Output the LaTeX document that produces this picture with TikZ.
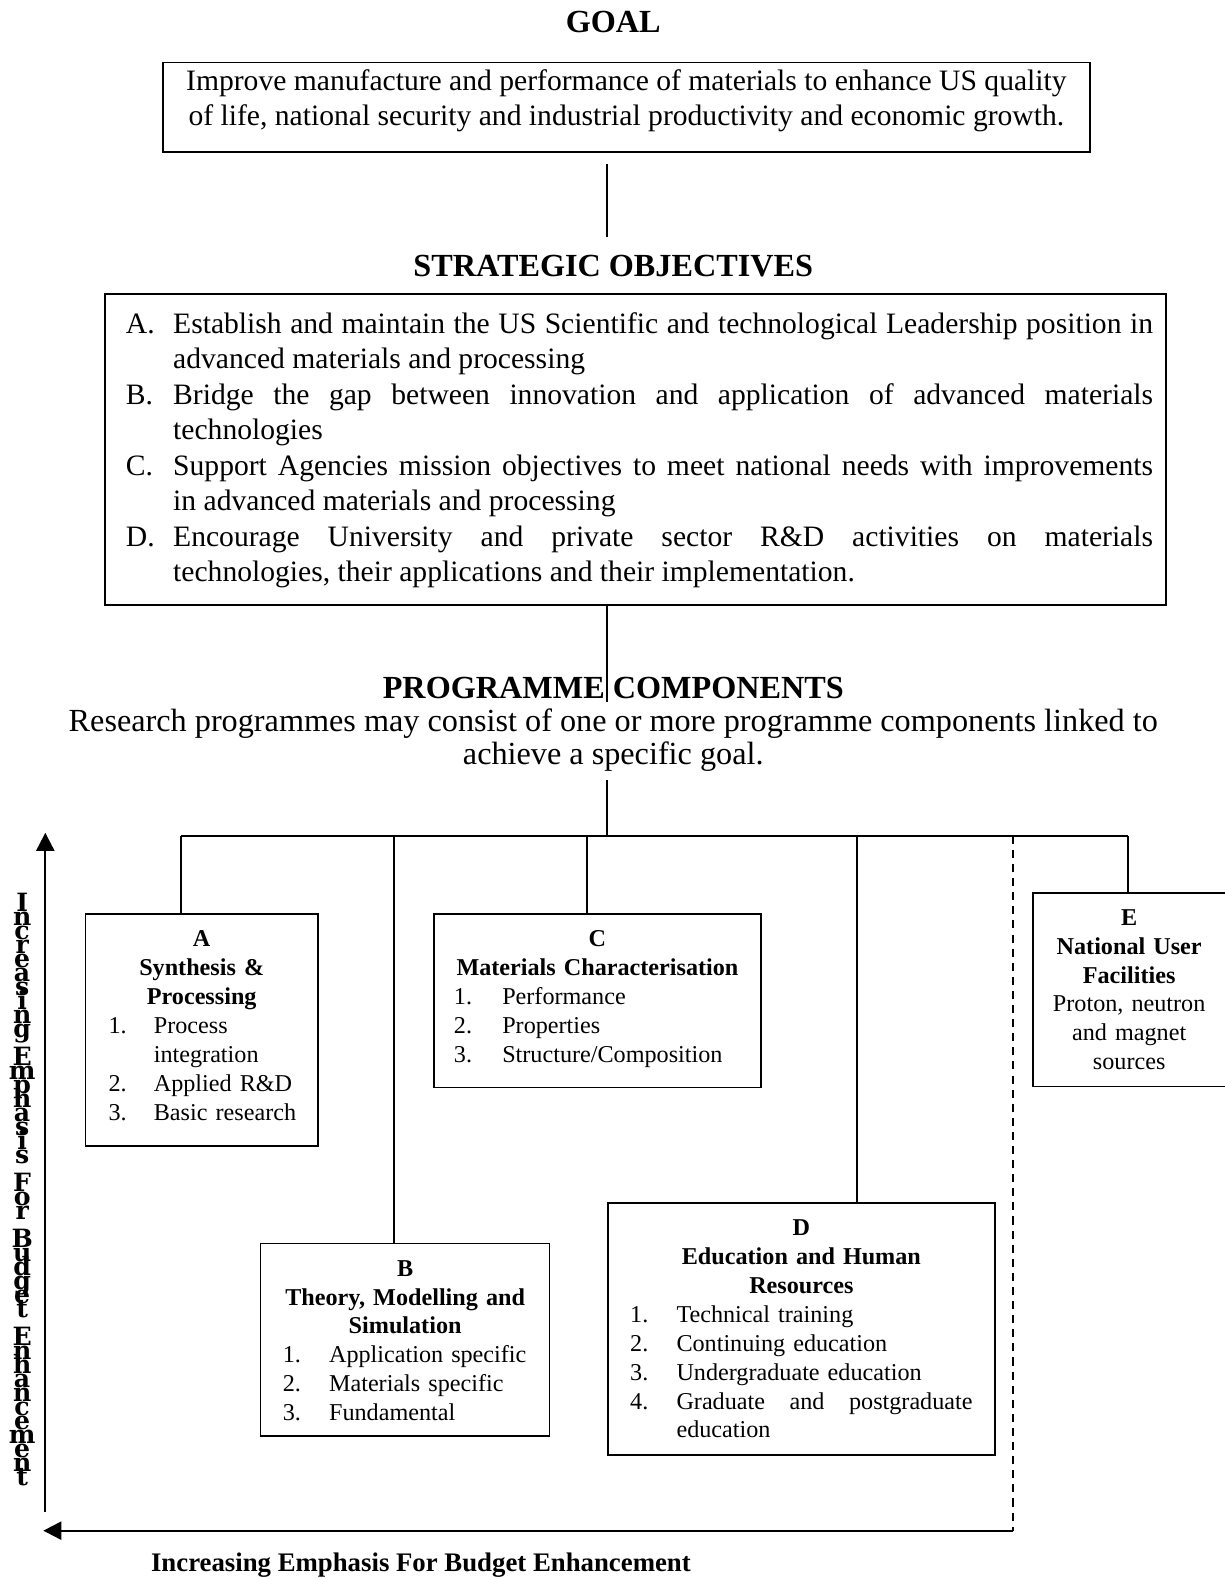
\documentclass[tikz,border=0pt]{standalone}
\usepackage{fontspec}
\setmainfont{Liberation Serif}
\newfontfamily\stackfamily{DejaVu Serif}
\usetikzlibrary{arrows.meta}

\newcommand\headfont{\fontsize{16}{18}\selectfont\bfseries}
\newcommand\bodyfont{\fontsize{14.7}{17.6}\selectfont}
\newcommand\progfont{\fontsize{16}{16}\selectfont}
\newcommand\boxfont{\fontsize{12}{14.35}\selectfont}
\newcommand\xlabfont{\fontsize{13.3}{15}\selectfont\bfseries}
\newcommand\ylabfont{\fontsize{12.5}{6.95}\selectfont\stackfamily\bfseries\lineskiplimit=-30pt\lineskip=0pt\relax}
\newcommand\objitem[2]{\par\hangindent=23.5pt\hangafter=1\noindent\makebox[23.5pt][l]{#1}#2\par}

\begin{document}
\begin{tikzpicture}
 [x=0.5pt,y=-0.5pt,
  head/.style={font=\headfont, inner sep=0pt},
  textbox/.style={draw, line width=0.8pt, font=\boxfont, align=center, inner sep=3pt, anchor=north west},
  link/.style={line width=0.9pt},
  axis/.style={line width=1.1pt, -{Triangle[length=9pt,width=9pt]}}]

\useasboundingbox (0,0) rectangle (1216,1568);

% goal and objectives
\node[head] (goal) at (609,22) {GOAL};
\node[draw, link, minimum width=460pt, minimum height=44.5pt, font=\bodyfont, align=center] (goalbox) at (622,106.5)
  {Improve manufacture and performance of materials to enhance US quality\\ of life, national security and industrial productivity and economic growth.\rule[-9.7pt]{0pt}{9.7pt}};

\node[head] (strat) at (609,264) {STRATEGIC OBJECTIVES};
\node[draw, link, text width=510pt, inner xsep=8.5pt, inner ysep=0pt, minimum height=154.5pt, font=\bodyfont, align=justify] (objbox) at (631,446.5)
  {\leftskip=2pt\rightskip=-2pt
   \objitem{A.}{Establish and maintain the US Scientific and technological Leadership position in\linebreak advanced materials and processing}%
   \objitem{B.}{Bridge the gap between innovation and application of advanced materials\linebreak technologies}%
   \objitem{C.}{Support Agencies mission objectives to meet national needs with improvements\linebreak in advanced materials and processing}%
   \objitem{D.}{Encourage University and private sector R\&D activities on materials\linebreak technologies, their applications and their implementation.\rule[-9.7pt]{0pt}{9.7pt}}};

\node[head] (progtitle) at (609,683) {PROGRAMME COMPONENTS};
\node[font=\progfont, align=center, inner sep=0pt] (progtext) at (609,735)
  {Research programmes may consist of one or more programme components linked to\\ achieve a specific goal.};

% programme components
\node[textbox, text width=109.5pt, minimum height=115pt] (a) at (84,907)
  {\textbf{A}\\ \textbf{Synthesis \&}\\ \textbf{Processing}\\
   \begin{tabular}[t]{@{}p{22.5pt}@{}p{70pt}@{}}
   1. & Process\newline integration\\ 2. & Applied R\&D\\ 3. & \mbox{Basic research}
   \end{tabular}};
\node[textbox, text width=137.5pt, minimum height=95.5pt] (b) at (258,1234)
  {\rule{0pt}{13pt}\textbf{B}\\ \textbf{Theory, Modelling and}\\ \textbf{Simulation}\\
   \begin{tabular}[t]{@{}p{23pt}@{}p{98.5pt}@{}}
   1. & Application specific\\ 2. & Materials specific\\ 3. & Fundamental
   \end{tabular}};
\node[textbox, text width=156.5pt, minimum height=86pt] (c) at (430,907)
  {\textbf{C}\\ \textbf{Materials Characterisation}\\
   \begin{tabular}[t]{@{}p{24pt}@{}p{118.5pt}@{}}
   1. & Performance\\ 2. & Properties\\ 3. & Structure/Composition
   \end{tabular}};
\node[textbox, text width=186pt, minimum height=125pt] (d) at (603,1194)
  {\rule{0pt}{12pt}\textbf{D}\\ \textbf{Education and Human}\\ \textbf{Resources}\\
   \begin{tabular}[t]{@{}p{23pt}@{}p{147pt}@{}}
   1. & Technical training\\ 2. & Continuing education\\ 3. & Undergraduate education\\
   4. & Graduate\hfill and\hfill postgraduate\linebreak education
   \end{tabular}};
\node[textbox, text width=89.5pt, minimum height=96pt] (e) at (1025,886)
  {\textbf{E}\\ \textbf{National User}\\ \textbf{Facilities}\\ Proton, neutron\\ and magnet\\ sources};

% axes labels
\node[font=\ylabfont, align=center, text width=16pt, inner sep=0pt] (ylabel) at (22,1181)
  {I\\n\\c\\r\\e\\a\\s\\i\\n\\g\\[6.95pt]E\\m\\p\\h\\a\\s\\i\\s\\[6.95pt]F\\o\\r\\[6.95pt]B\\u\\d\\g\\e\\t\\[6.95pt]E\\n\\h\\a\\n\\c\\e\\m\\e\\n\\t};
\node[font=\xlabfont, inner sep=0pt] (xlabel) at (418,1554) {Increasing Emphasis For Budget Enhancement};

% connectors
\coordinate (s1) at (603,163);
\coordinate (s2) at (603,235);
\coordinate (s3) at (603,697);
\coordinate (s4) at (603,775);
\coordinate (bmid) at (603,830);
\coordinate (ba) at (180,830);
\coordinate (bb) at (391,830);
\coordinate (bc) at (583,830);
\coordinate (bd) at (851,830);
\coordinate (bdash) at (1006,830);
\coordinate (be) at (1120,830);
\coordinate (corner) at (1006,1520);
\coordinate (xend) at (43,1520);
\coordinate (ybot) at (45,1501);
\coordinate (ytop) at (45,827);

\draw[link] (s1) -- (s2);
\draw[link] (objbox.south -| s3) -- (s3);
\draw[link] (s4) -- (bmid);
\draw[link] (ba) -- (be);
\draw[link] (ba) -- (ba |- a.north);
\draw[link] (bb) -- (bb |- b.north);
\draw[link] (bc) -- (bc |- c.north);
\draw[link] (bd) -- (bd |- d.north);
\draw[link] (be) -- (be |- e.north);
\draw[link, dash pattern=on 4pt off 3pt] (bdash) -- (corner);
\draw[axis] (corner) -- (xend);
\draw[axis] (ybot) -- (ytop);

\end{tikzpicture}
\end{document}
